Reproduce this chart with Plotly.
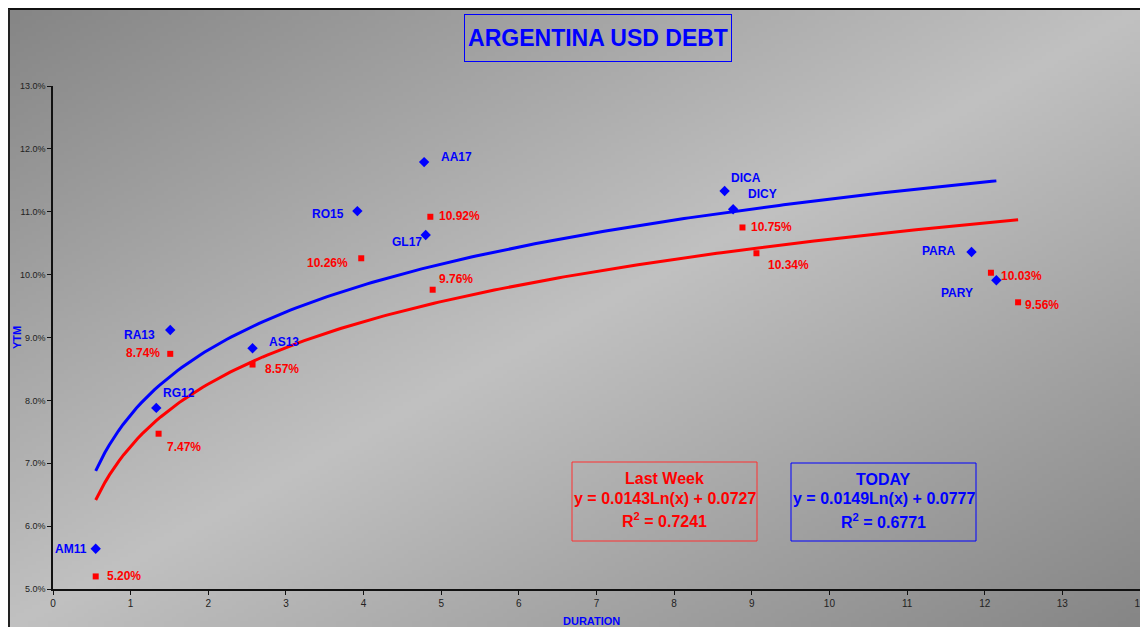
import base64
import struct
import zlib

import numpy as np
import plotly.graph_objects as go

# ---------------- data ----------------
bonds = ["AM11", "RG12", "RA13", "AS13", "RO15", "AA17", "GL17", "DICA", "DICY", "PARA", "PARY"]
today_duration = [0.55, 1.33, 1.51, 2.57, 3.92, 4.78, 4.80, 8.65, 8.76, 11.83, 12.15]
today_ytm = [5.64, 7.88, 9.12, 8.83, 11.01, 11.79, 10.63, 11.33, 11.04, 10.36, 9.91]

lastweek_duration = [0.55, 1.36, 1.51, 2.57, 3.97, 4.86, 4.89, 8.88, 9.06, 12.08, 12.43]
lastweek_ytm = [5.20, 7.47, 8.74, 8.57, 10.26, 10.92, 9.76, 10.75, 10.34, 10.03, 9.56]

# logarithmic trendline coefficients (as printed in the chart)
today_fit = {"a": 0.0149, "b": 0.0777, "r2": 0.6771}
lastweek_fit = {"a": 0.0143, "b": 0.0727, "r2": 0.7241}

x_ticks = list(range(0, 15))
y_ticks = [5, 6, 7, 8, 9, 10, 11, 12, 13]

# ---------------- label placement (styles) ----------------
today_label_pos = [  # xanchor, xshift, yshift
    ("right", -7, 0), ("left", 5, 15), ("right", -13, -5), ("left", 14, 6),
    ("right", -11, -3), ("left", 15, 5), ("right", -2, -7), ("left", 4, 13),
    ("left", 13, 15), ("right", -15, 1), ("right", -21, -13),
]
lastweek_label_pos = [
    ("left", 9, 0), ("left", 6, -13), ("right", -8, 1), ("left", 10, -4),
    ("right", -11, -5), ("left", 7, 1), ("left", 4, 11), ("left", 7, 0),
    ("left", 10, -12), ("left", 8, -3), ("left", 5, -3),
]

W, H = 1140, 627
ML, MR, MT, MB = 53, 0, 86, 38
PW, PH = W - ML - MR, H - MT - MB


def px_x(px):
    return (px - ML) / PW


def px_y(py):
    return (H - MB - py) / PH


# ---------------- gradient background image ----------------
def gradient_png(w, h):
    rows = []
    for j in range(h):
        row = bytearray()
        for i in range(w):
            t = (i / (w - 1) + j / (h - 1)) / 2.0
            tri = 1 - abs(2 * t - 1)
            v = int(134 + (193 - 134) * tri)
            row.append(v)
        rows.append(b"\x00" + bytes(row))
    raw = b"".join(rows)

    def chunk(tag, data):
        return (struct.pack(">I", len(data)) + tag + data
                + struct.pack(">I", zlib.crc32(tag + data) & 0xFFFFFFFF))

    png = (b"\x89PNG\r\n\x1a\n"
           + chunk(b"IHDR", struct.pack(">IIBBBBB", w, h, 8, 0, 0, 0, 0))
           + chunk(b"IDAT", zlib.compress(raw, 9))
           + chunk(b"IEND", b""))
    return "data:image/png;base64," + base64.b64encode(png).decode()


FRAME_L, FRAME_T = 10, 10
bg_src = gradient_png(283, 155)

FONT = "Liberation Sans, Arial, sans-serif"
BLUE = "#0000FF"
RED = "#FF0000"

fig = go.Figure()


def trend_curve(xs, fit):
    xx = np.linspace(min(xs), max(xs), 200)
    return xx, (fit["a"] * np.log(xx) + fit["b"]) * 100


fig.add_trace(go.Scatter(
    x=lastweek_duration, y=lastweek_ytm, mode="markers", name="Last Week",
    marker=dict(symbol="square", size=6, color=RED)))
fig.add_trace(go.Scatter(
    x=today_duration, y=today_ytm, mode="markers", name="Today",
    marker=dict(symbol="diamond", size=8, color=BLUE), text=bonds))

lx, ly = trend_curve(lastweek_duration, lastweek_fit)
fig.add_trace(go.Scatter(x=lx, y=ly, mode="lines", line=dict(color=RED, width=3),
                         hoverinfo="skip", showlegend=False))
tx, ty = trend_curve(today_duration, today_fit)
fig.add_trace(go.Scatter(x=tx, y=ty, mode="lines", line=dict(color=BLUE, width=3),
                         hoverinfo="skip", showlegend=False))

annotations = []
for name, x, y, (xa, xs, ys) in zip(bonds, today_duration, today_ytm, today_label_pos):
    annotations.append(dict(x=x, y=y, xref="x", yref="y", text=f"<b>{name}</b>",
                            showarrow=False, xanchor=xa, yanchor="middle",
                            xshift=xs, yshift=ys,
                            font=dict(family=FONT, size=12, color=BLUE)))
for x, y, (xa, xs, ys) in zip(lastweek_duration, lastweek_ytm, lastweek_label_pos):
    annotations.append(dict(x=x, y=y, xref="x", yref="y", text=f"<b>{y:.2f}%</b>",
                            showarrow=False, xanchor=xa, yanchor="middle",
                            xshift=xs, yshift=ys,
                            font=dict(family=FONT, size=12, color=RED)))

# title box
annotations.append(dict(x=px_x(598), y=px_y(38), xref="paper", yref="paper",
                        text="<b>ARGENTINA USD DEBT</b>", showarrow=False,
                        xanchor="center", yanchor="middle",
                        width=264, height=44, bordercolor=BLUE, borderwidth=1,
                        font=dict(family=FONT, size=23, color=BLUE)))

shapes = [
    dict(type="line", xref="paper", yref="paper", x0=px_x(8), x1=px_x(W + 5),
         y0=px_y(9), y1=px_y(9), line=dict(color="#111111", width=2)),
    dict(type="line", xref="paper", yref="paper", x0=px_x(9), x1=px_x(9),
         y0=px_y(9), y1=px_y(H + 5), line=dict(color="#222222", width=2)),
]

# equation boxes: border rectangle + three text lines
boxes = [
    ("Last Week", lastweek_fit, RED, "#FF3030", 572, 757, 462, 541),
    ("TODAY", today_fit, BLUE, BLUE, 791, 976, 463, 541),
]
for label, fit, col, bcol, x0, x1, y0, y1 in boxes:
    shapes.append(dict(type="rect", xref="paper", yref="paper",
                       x0=px_x(x0), x1=px_x(x1), y0=px_y(y1), y1=px_y(y0),
                       line=dict(color=bcol, width=1)))
    cx = px_x((x0 + x1) / 2)
    lines = [
        (f"<b>{label}</b>", y0 + 16),
        ("<b>y = %.4fLn(x) + %.4f</b>" % (fit["a"], fit["b"]), y0 + 36),
        ("<b>R<sup>2</sup> = %.4f</b>" % fit["r2"], y0 + 58),
    ]
    for txt, py in lines:
        annotations.append(dict(x=cx, y=px_y(py), xref="paper", yref="paper",
                                text=txt, showarrow=False, xanchor="center",
                                yanchor="middle",
                                font=dict(family=FONT, size=16, color=col)))

# axis titles
annotations.append(dict(x=px_x(17), y=px_y(338), xref="paper", yref="paper",
                        text="<b>YTM</b>", showarrow=False, textangle=-90,
                        xanchor="center", yanchor="middle",
                        font=dict(family=FONT, size=11, color=BLUE)))
annotations.append(dict(x=px_x(591), y=px_y(621), xref="paper", yref="paper",
                        text="<b>DURATION</b>", showarrow=False,
                        xanchor="center", yanchor="middle",
                        font=dict(family=FONT, size=11, color=BLUE)))

fig.update_layout(
    width=W, height=H,
    margin=dict(l=ML, r=MR, t=MT, b=MB, pad=0, autoexpand=False),
    paper_bgcolor="white",
    plot_bgcolor="rgba(0,0,0,0)",
    showlegend=False,
    annotations=annotations,
    shapes=shapes,
    images=[dict(source=bg_src, xref="paper", yref="paper",
                 x=px_x(FRAME_L), y=px_y(FRAME_T),
                 sizex=px_x(W) - px_x(FRAME_L), sizey=px_y(FRAME_T) - px_y(H),
                 xanchor="left", yanchor="top", sizing="stretch", layer="below")],
    xaxis=dict(range=[0, 14], tickmode="array", tickvals=x_ticks,
               ticktext=[str(v) for v in x_ticks], ticklabeloverflow="allow",
               automargin=False,
               showgrid=False, zeroline=False, showline=True, linecolor="#111111",
               linewidth=1.5, ticks="outside", ticklen=4, tickcolor="#111111",
               tickfont=dict(family=FONT, size=10, color="#222222")),
    yaxis=dict(range=[5, 13], tickmode="array", tickvals=y_ticks,
               ticktext=[f"{v:.1f}%" for v in y_ticks], automargin=False,
               showgrid=False, zeroline=False, showline=True, linecolor="#111111",
               linewidth=1.5, ticks="outside", ticklen=4, tickcolor="#111111",
               tickfont=dict(family=FONT, size=9, color="#222222")),
)

fig.write_html("out.html")
